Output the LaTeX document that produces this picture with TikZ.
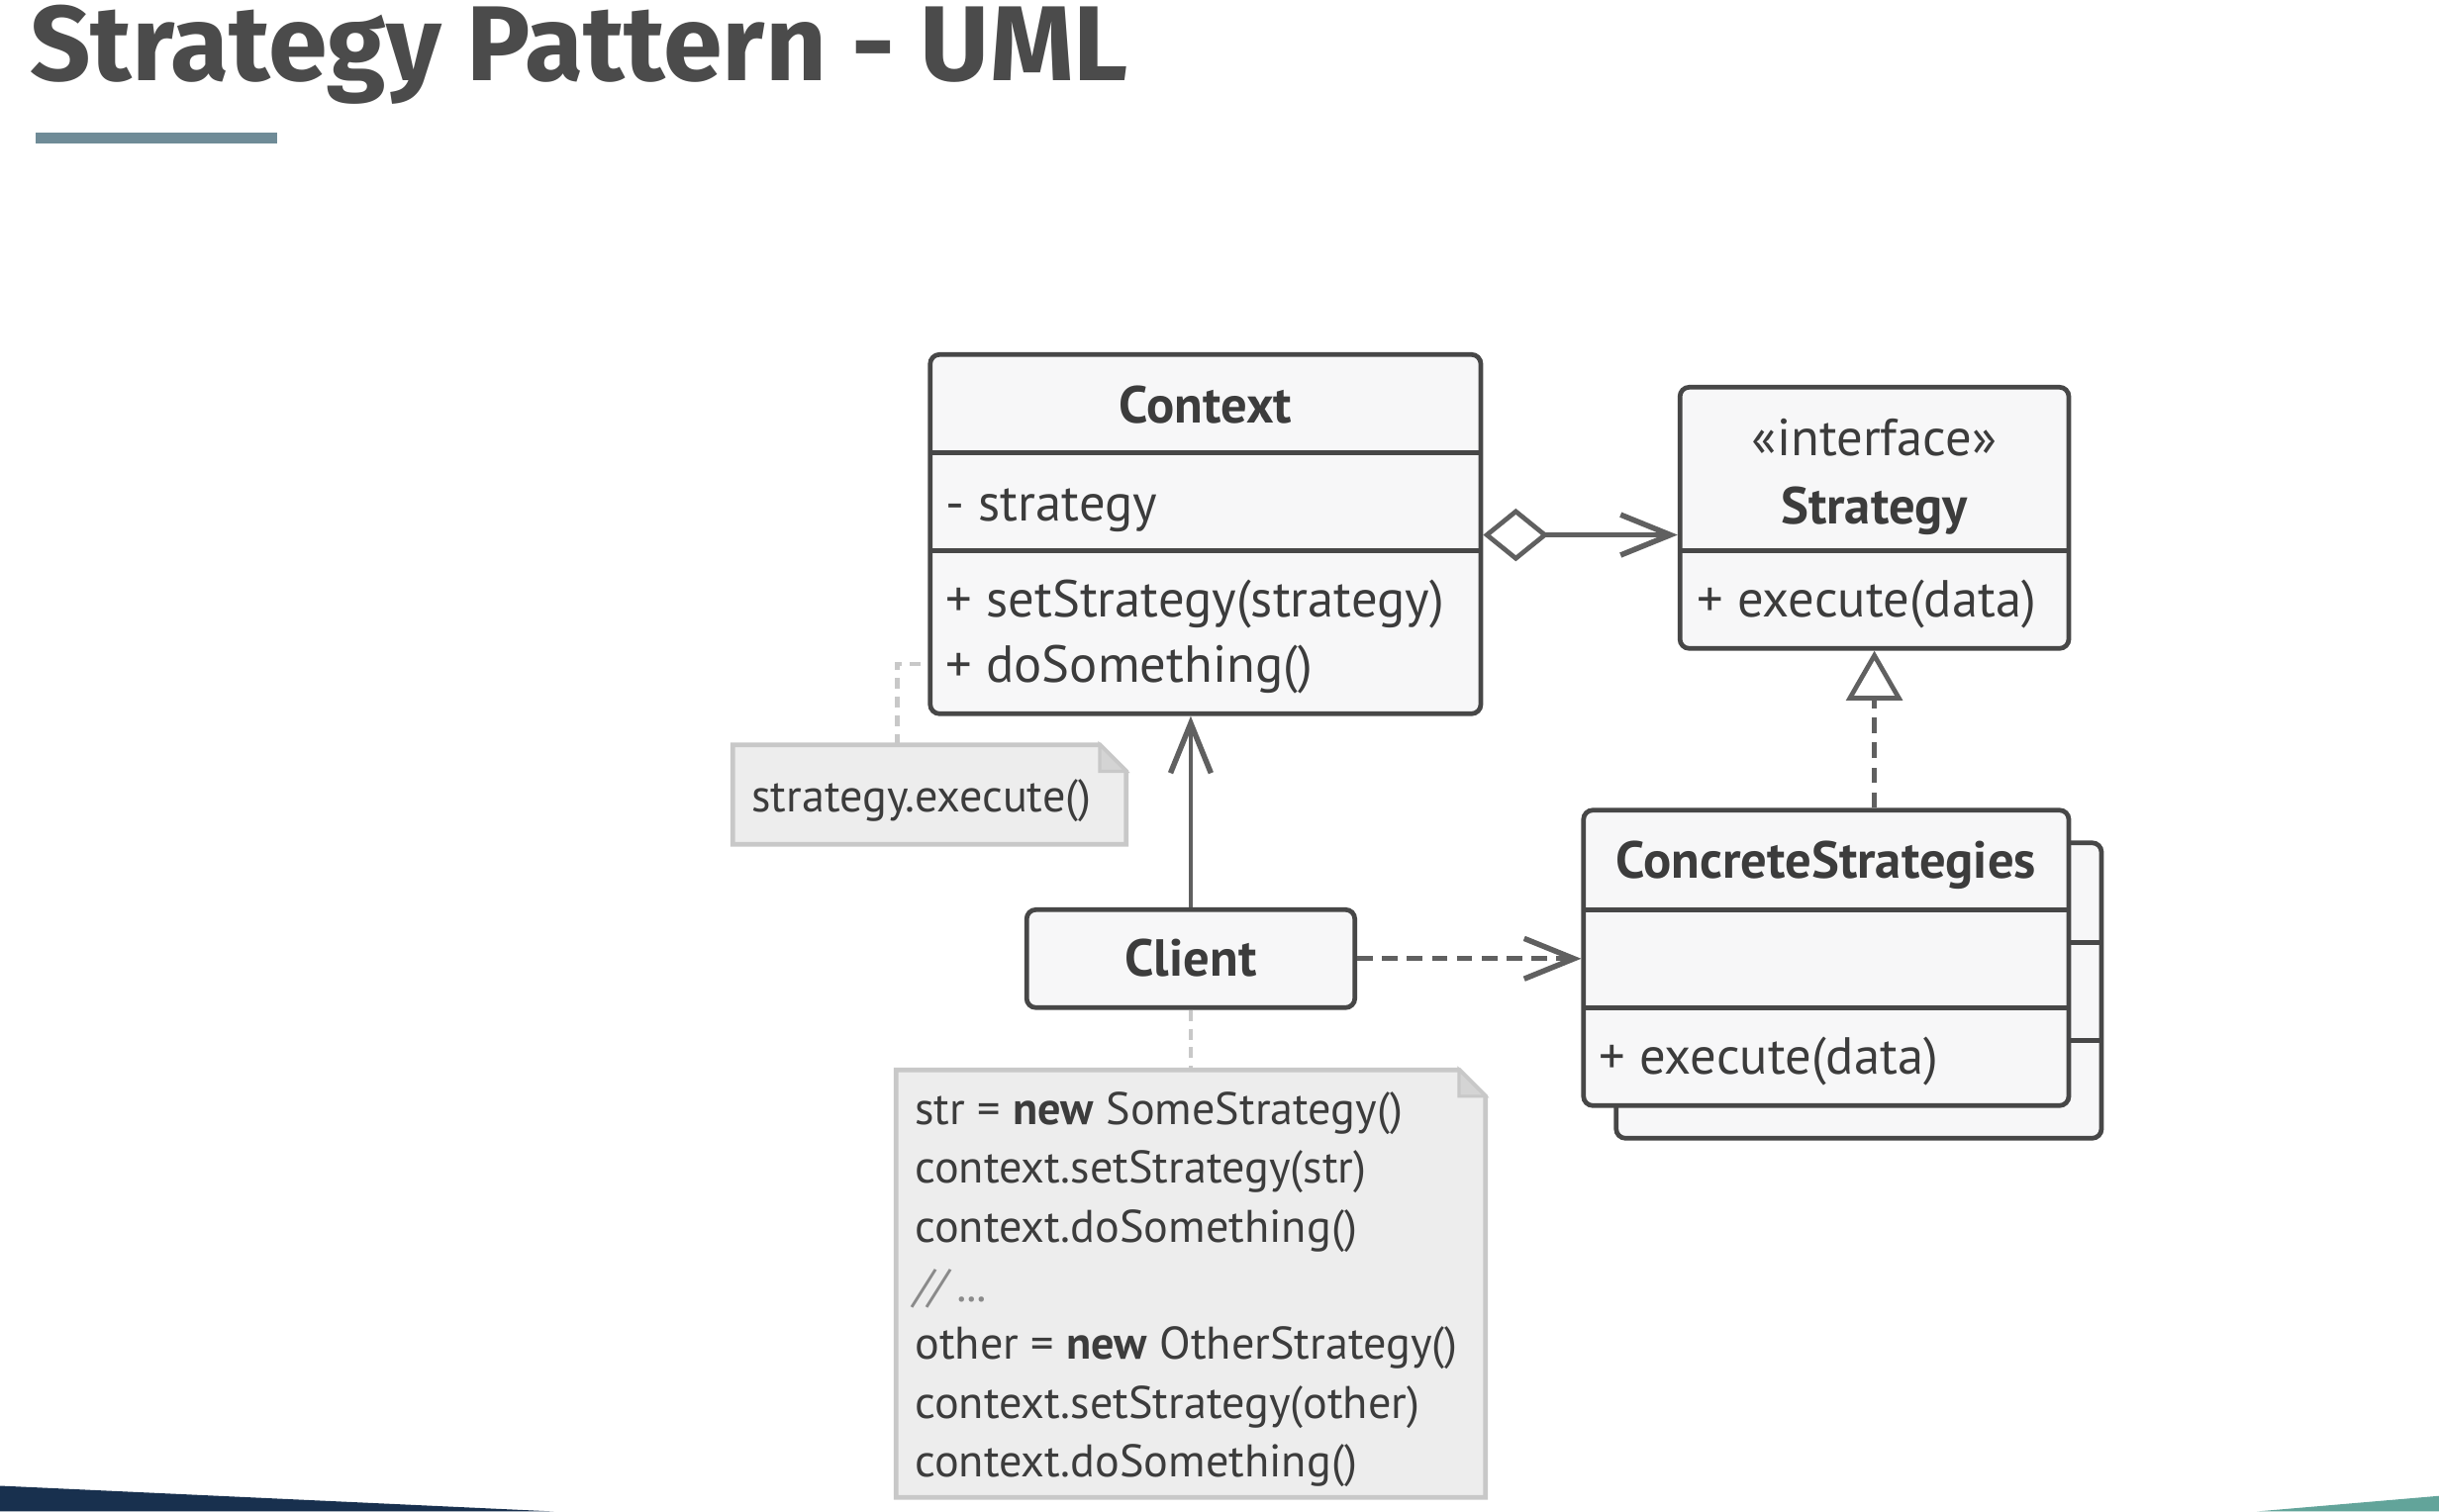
\documentclass[tikz,border=0pt]{standalone}
\usepackage{fontspec}
\setmainfont{PT Sans}
\newfontfamily\titlefont{Fira Sans}
\usetikzlibrary{arrows.meta}
\definecolor{boxline}{HTML}{474747}
\definecolor{conn}{HTML}{606060}
\definecolor{txt}{HTML}{3C3C3C}
\definecolor{boxfill}{HTML}{F7F7F8}
\definecolor{notefill}{HTML}{EDEDED}
\definecolor{noteline}{HTML}{C8C8C8}
\definecolor{notefold}{HTML}{D4D4D4}
\definecolor{titlecol}{HTML}{4B4B4B}
\definecolor{barcol}{HTML}{6F8B97}
\definecolor{navy}{HTML}{18304E}
\definecolor{tealc}{HTML}{62A49A}
\definecolor{comment}{HTML}{8A8A8A}
\begin{document}
\begin{tikzpicture}[x=1pt,y=-1pt,
  umlbox/.style={draw=boxline, fill=boxfill, line width=3pt, rounded corners=6pt, inner sep=0pt},
  divider/.style={draw=boxline, line width=3.5pt},
  lbl/.style={anchor=base west, inner sep=0pt, text=txt, font=\fontsize{33.5}{40}\selectfont},
  clbl/.style={anchor=base, inner sep=0pt, text=txt, font=\fontsize{33.5}{40}\selectfont},
  bname/.style={anchor=base, inner sep=0pt, text=txt, font=\fontsize{33.5}{40}\selectfont\bfseries},
  nlbl/.style={anchor=base west, inner sep=0pt, text=txt, font=\fontsize{29.4}{36}\selectfont},
  connline/.style={draw=conn, line width=3pt},
  dashline/.style={connline, dash pattern=on 10pt off 6pt},
  barb/.style={-{Straight Barb[length=32pt,width=26pt,line width=3.5pt]}},
  notebox/.style={draw=noteline, fill=notefill, line width=3pt, line join=miter},
  noteconn/.style={draw=noteline, line width=3pt, dash pattern=on 7pt off 5pt},
  ghost/.style={inner sep=0pt, outer sep=0pt, minimum width=#1}
]
\useasboundingbox (0,0) rectangle (1568,972);
\fill[white] (0,0) rectangle (1568,972);

% title
\node[anchor=base west, inner sep=0pt, text=titlecol,
      font=\titlefont\bfseries\fontsize{68.5}{72}\selectfont] (title) at (19,52) {Strategy Pattern - UML};
\fill[barcol] (23,85) rectangle (178,92);

% bottom bands
\fill[navy] (0,955.5) -- (356,972) -- (0,972) -- cycle;
\fill[tealc] (1568,962) -- (1451,972) -- (1568,972) -- cycle;

% Context
\node[umlbox, minimum width=354pt, minimum height=231pt] (context) at (775,343.5) {};
\draw[divider] (598,291) -- (952,291);
\draw[divider] (598,354) -- (952,354);
\node[bname] (ctxname) at (775,272) {Context};
\node[lbl] (ctxattr) at (608,335) {- strategy};
\node[lbl] (ctxm1) at (608,397) {+ setStrategy(strategy)};
\node[lbl] (ctxm2) at (608,439) {+ doSomething()};

% Strategy
\node[umlbox, minimum width=250pt, minimum height=168pt] (strategy) at (1205,333) {};
\draw[divider] (1080,354) -- (1330,354);
\node[clbl] (stereo) at (1205,293) {«interface»};
\node[bname] (stname) at (1205,337) {Strategy};
\node[lbl] (stm1) at (1091,397) {+ execute(data)};

% ConcreteStrategies (stack)
\node[umlbox, minimum width=312pt, minimum height=190pt] (csback) at (1195,637) {};
\draw[divider] (1039,606) -- (1351,606);
\draw[divider] (1039,669) -- (1351,669);
\node[umlbox, minimum width=312pt, minimum height=190pt] (cs) at (1174,616) {};
\draw[divider] (1018,585) -- (1330,585);
\draw[divider] (1018,648) -- (1330,648);
\node[bname] (csname) at (1174,565) {ConcreteStrategies};
\node[lbl] (csm1) at (1028,691) {+ execute(data)};

% Client
\node[umlbox, minimum width=211pt, minimum height=63pt] (client) at (765.5,616.5) {};
\node[bname] (clname) at (765.5,628) {Client};

% Note 1
\draw[notebox] (471,479) -- (707,479) -- (724,496) -- (724,543) -- (471,543) -- cycle;
\fill[notefold, draw=noteline, line width=2pt] (707,479) -- (707,496) -- (724,496) -- cycle;
\node[ghost=253pt, minimum height=64pt] (note1) at (597.5,511) {};
\node[nlbl] (n1t) at (483,522) {strategy.execute()};

% Note 2
\draw[notebox] (576,688) -- (938,688) -- (955,705) -- (955,963) -- (576,963) -- cycle;
\fill[notefold, draw=noteline, line width=2pt] (938,688) -- (938,705) -- (955,705) -- cycle;
\node[ghost=379pt, minimum height=275pt] (note2) at (765.5,825.5) {};
\node[nlbl] (n2a) at (588,723) {str = \textbf{new} SomeStrategy()};
\node[nlbl] (n2b) at (588,761) {context.setStrategy(str)};
\node[nlbl] (n2c) at (588,799) {context.doSomething()};
\node[nlbl, text=comment] (n2d) at (588,837) {\itshape // ...};
\node[nlbl] (n2e) at (588,874) {other = \textbf{new} OtherStrategy()};
\node[nlbl] (n2f) at (588,912) {context.setStrategy(other)};
\node[nlbl] (n2g) at (588,950) {context.doSomething()};

% connectors
\coordinate (agg) at (0,344);
\draw[connline, {Diamond[fill=white,length=42pt,width=34pt,line width=3pt]}-{Straight Barb[length=32pt,width=26pt,line width=3.5pt]}]
  (context.east |- agg) -- (strategy.west |- agg);
\draw[dashline, -{Triangle[fill=white,length=32pt,width=36pt,line width=3pt]}]
  (cs.north -| strategy.south) -- (strategy.south);
\draw[connline, barb] (client.north) -- (client.north |- context.south);
\draw[dashline, barb] (client.east) -- (client.east -| cs.west);

\coordinate (n1c) at (577,427);
\draw[noteconn] (note1.north -| n1c) -- (n1c) -- (context.west |- n1c);
\draw[noteconn] (client.south) -- (note2.north -| client.south);
\end{tikzpicture}
\end{document}
